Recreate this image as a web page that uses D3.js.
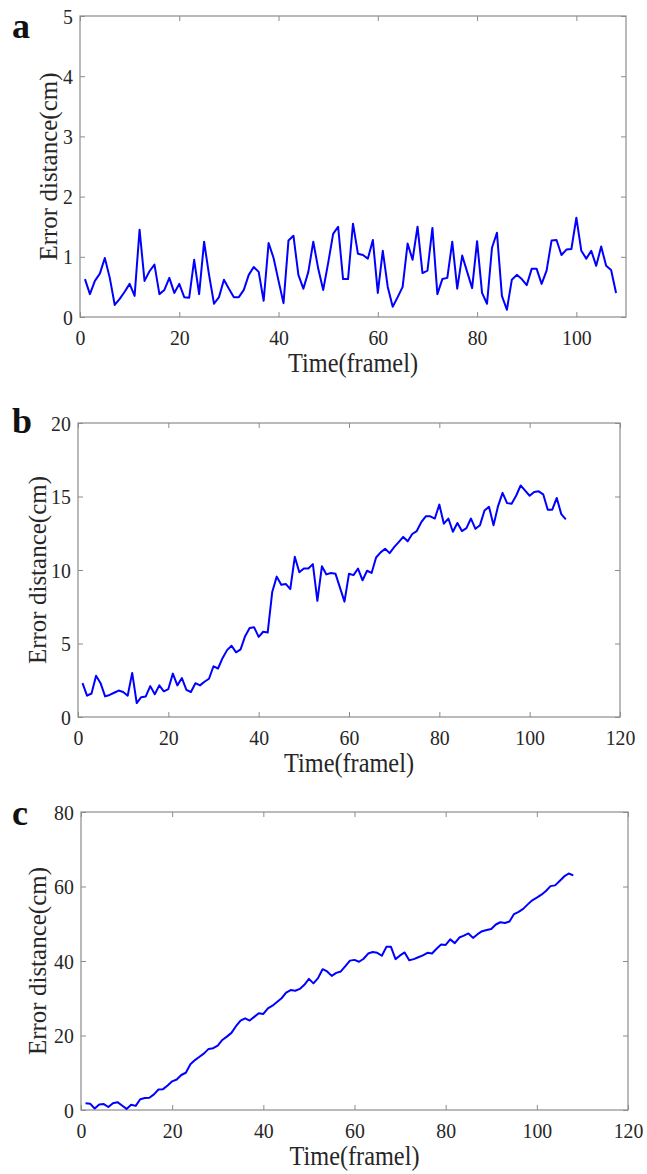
<!DOCTYPE html>
<meta charset="utf-8">
<style>
    body { margin: 0; background: #fff; }
    svg text { font-family: "Liberation Serif", "Times New Roman", serif; }
    .axis path { display: none; }
    .axis line { stroke: #8c8c8c; }
    .axis text { fill: #262626; font-size: 22px; }
    .frame { fill: none; stroke: #8c8c8c; stroke-width: 1.2px; }
    .line { fill: none; stroke: #0000ff; stroke-width: 2px; stroke-linejoin: round; }
</style>
<svg width="647" height="1174"></svg>
<script src="https://cdn.jsdelivr.net/npm/d3@7"></script>
<script>
    // frame index 1..108, shared by all three panels
    var frames = d3.range(1, 109);

    // panel a: small error
    var errorA = [
        0.63, 0.38, 0.60, 0.72, 0.98, 0.65, 0.20, 0.30, 0.42, 0.55,
        0.35, 1.45, 0.60, 0.76, 0.87, 0.38, 0.45, 0.65, 0.40, 0.55,
        0.33, 0.32, 0.95, 0.38, 1.25, 0.70, 0.22, 0.33, 0.62, 0.47,
        0.33, 0.33, 0.45, 0.70, 0.83, 0.75, 0.27, 1.23, 0.98, 0.60,
        0.23, 1.27, 1.35, 0.70, 0.47, 0.75, 1.25, 0.80, 0.45, 0.90,
        1.38, 1.50, 0.63, 0.63, 1.55, 1.05, 1.03, 0.97, 1.28, 0.40,
        1.10, 0.50, 0.17, 0.33, 0.50, 1.22, 0.95, 1.50, 0.73, 0.77,
        1.48, 0.38, 0.63, 0.65, 1.25, 0.47, 1.02, 0.75, 0.48, 1.26,
        0.40, 0.22, 1.15, 1.40, 0.35, 0.12, 0.62, 0.70, 0.63, 0.53,
        0.80, 0.80, 0.55, 0.77, 1.27, 1.28, 1.03, 1.12, 1.13, 1.65,
        1.10, 0.97, 1.10, 0.85, 1.17, 0.85, 0.78, 0.40
    ];

    // panel b: medium drift
    var errorB = [
        2.30, 1.45, 1.60, 2.80, 2.30, 1.40, 1.50, 1.65, 1.80, 1.70,
        1.45, 3.00, 0.95, 1.35, 1.40, 2.10, 1.55, 2.15, 1.75, 1.90,
        2.95, 2.15, 2.65, 1.85, 1.70, 2.30, 2.15, 2.40, 2.60, 3.45,
        3.30, 4.00, 4.55, 4.85, 4.40, 4.60, 5.50, 6.05, 6.10, 5.45,
        5.80, 5.75, 8.50, 9.55, 9.00, 9.05, 8.70, 10.90, 9.85, 10.10,
        10.10, 10.40, 7.90, 10.25, 9.70, 9.80, 9.75, 8.80, 7.85, 9.75,
        9.65, 10.10, 9.30, 9.95, 9.80, 10.85, 11.20, 11.45, 11.15, 11.55,
        11.90, 12.25, 11.95, 12.45, 12.65, 13.25, 13.65, 13.65, 13.50, 14.45,
        13.15, 13.50, 12.60, 13.20, 12.65, 12.85, 13.50, 12.80, 13.05, 14.05,
        14.30, 13.05, 14.35, 15.25, 14.55, 14.50, 15.05, 15.75, 15.40, 15.05,
        15.30, 15.35, 15.15, 14.10, 14.10, 14.90, 13.80, 13.45
    ];

    // panel c: large drift
    var errorC = [
        1.8, 1.7, 0.4, 1.5, 1.6, 0.8, 1.8, 2.1, 1.2, 0.3,
        1.4, 1.1, 2.9, 3.2, 3.3, 4.2, 5.5, 5.6, 6.6, 7.7,
        8.2, 9.4, 10.0, 12.3, 13.4, 14.3, 15.2, 16.4, 16.6, 17.3,
        18.8, 19.7, 20.7, 22.5, 24.0, 24.6, 24.0, 25.0, 26.0, 25.8,
        27.3, 28.0, 29.0, 30.0, 31.5, 32.2, 32.0, 32.5, 33.6, 35.2,
        34.0, 35.4, 37.8, 37.2, 36.0, 36.8, 37.2, 38.6, 40.1, 40.3,
        39.8, 40.6, 42.0, 42.4, 42.2, 41.4, 43.8, 43.8, 40.5, 41.5,
        42.3, 40.2, 40.5, 41.0, 41.5, 42.2, 42.0, 43.3, 44.4, 44.3,
        45.8, 44.8, 46.3, 46.8, 47.4, 46.2, 47.2, 48.0, 48.3, 48.6,
        49.8, 50.4, 50.2, 50.6, 52.6, 53.2, 54.0, 55.2, 56.3, 57.0,
        57.8, 58.8, 60.1, 60.3, 61.5, 62.7, 63.5, 63.0
    ];

    var xTicksA = [0, 20, 40, 60, 80, 100];
    var xTicksBC = [0, 20, 40, 60, 80, 100, 120];
    var yTicksA = [0, 1, 2, 3, 4, 5];
    var yTicksB = [0, 5, 10, 15, 20];
    var yTicksC = [0, 20, 40, 60, 80];

    var xTitle = 'Time(framel)';
    var yTitle = 'Error distance(cm)';

    var panels = [
        { tag: 'a', values: errorA, xMax: 110, yMax: 5, xTicks: xTicksA, yTicks: yTicksA,
          left: 80, right: 626, top: 16, bottom: 317, tagY: 38, yTitleX: 57 },
        { tag: 'b', values: errorB, xMax: 120, yMax: 20, xTicks: xTicksBC, yTicks: yTicksB,
          left: 78, right: 620, top: 423, bottom: 717, tagY: 433, yTitleX: 46 },
        { tag: 'c', values: errorC, xMax: 120, yMax: 80, xTicks: xTicksBC, yTicks: yTicksC,
          left: 81, right: 628, top: 812, bottom: 1110, tagY: 825, yTitleX: 46 }
    ];

    var svg = d3.select('svg');
    var fmt = d3.format('d');

    panels.forEach(function (p) {
        var w = p.right - p.left;
        var h = p.bottom - p.top;
        var x = d3.scaleLinear().domain([0, p.xMax]).range([0, w]);
        var y = d3.scaleLinear().domain([0, p.yMax]).range([h, 0]);

        var g = svg.append('g')
            .attr('transform', `translate(${p.left}, ${p.top})`);

        // inward ticks on all four sides, matlab style
        g.append('g').attr('class', 'axis')
            .attr('transform', `translate(0, ${h})`)
            .call(d3.axisBottom(x).tickValues(p.xTicks).tickFormat(fmt).tickSize(-5).tickPadding(12))
            .selectAll('text').attr('transform', 'scale(0.9, 1)');
        g.append('g').attr('class', 'axis')
            .call(d3.axisTop(x).tickValues(p.xTicks).tickSize(-5).tickFormat(''));
        g.append('g').attr('class', 'axis')
            .call(d3.axisLeft(y).tickValues(p.yTicks).tickFormat(fmt).tickSize(-5).tickPadding(8))
            .selectAll('text').attr('transform', 'scale(0.9, 1)');
        g.append('g').attr('class', 'axis')
            .attr('transform', `translate(${w}, 0)`)
            .call(d3.axisRight(y).tickValues(p.yTicks).tickSize(-5).tickFormat(''));

        g.append('rect').attr('class', 'frame')
            .attr('width', w).attr('height', h);

        var line = d3.line()
            .x(function (d, i) { return x(frames[i]); })
            .y(function (d) { return y(d); });

        g.append('path')
            .datum(p.values)
            .attr('class', 'line')
            .attr('d', line);

        g.append('text')
            .attr('transform', `translate(${w / 2}, ${h + 55}) scale(0.9, 1)`)
            .attr('text-anchor', 'middle')
            .attr('font-size', 27)
            .attr('fill', '#262626')
            .text(xTitle);

        svg.append('text')
            .attr('transform', `translate(${p.yTitleX}, ${p.top + h / 2}) rotate(-90)`)
            .attr('text-anchor', 'middle')
            .attr('font-size', 25)
            .attr('fill', '#262626')
            .text(yTitle);

        svg.append('text')
            .attr('x', 12)
            .attr('y', p.tagY)
            .attr('font-size', 36)
            .attr('font-weight', 'bold')
            .attr('fill', '#111')
            .text(p.tag);
    });
</script>
